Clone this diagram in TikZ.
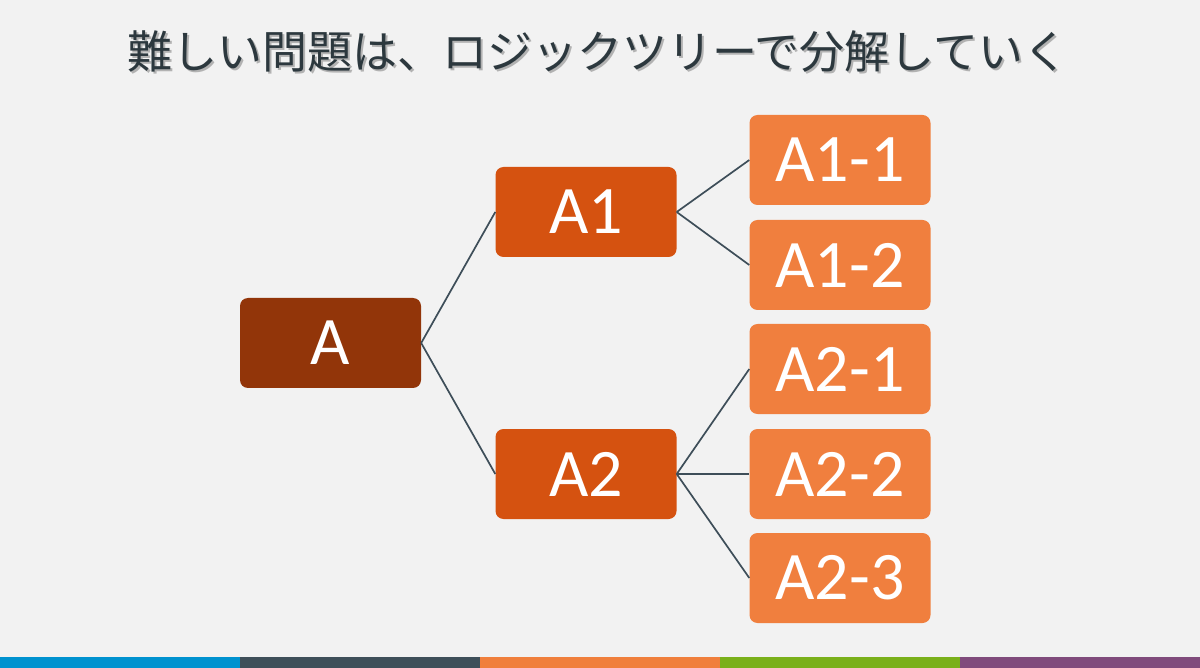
\documentclass[tikz,border=0pt]{standalone}
\usepackage{fontspec}
\setmainfont{Carlito}
\newfontfamily\jpfont{Noto Sans CJK JP}

\newlength{\du}
\setlength{\du}{1pt}

\definecolor{bgcolor}{RGB}{242,242,242}
\definecolor{rootcolor}{RGB}{146,53,9}
\definecolor{midcolor}{RGB}{213,82,16}
\definecolor{leafcolor}{RGB}{240,127,62}
\definecolor{linecolor}{RGB}{62,78,89}
\definecolor{titlecolor}{RGB}{44,56,62}
\definecolor{barblue}{RGB}{0,146,207}
\definecolor{bargray}{RGB}{62,79,89}
\definecolor{barorange}{RGB}{240,127,60}
\definecolor{bargreen}{RGB}{122,176,26}
\definecolor{barpurple}{RGB}{128,75,124}

\tikzset{
  treebox/.style={rounded corners=8\du, minimum width=181\du, minimum height=90\du,
    inner sep=0pt, text=white, font=\fontsize{68}{68}\selectfont},
  rootbox/.style={treebox, fill=rootcolor},
  midbox/.style={treebox, fill=midcolor},
  leafbox/.style={treebox, fill=leafcolor},
  link/.style={draw=linecolor, line width=1.7\du},
}

\begin{document}
\begin{tikzpicture}
\pgftransformyscale{-1.000000}
% background and frame
\fill[bgcolor] (0\du,0\du) rectangle (1200\du,668\du);
\useasboundingbox (0\du,0\du) rectangle (1200\du,668\du);
% bottom bar
\fill[barblue] (0\du,657\du) rectangle (240\du,668\du);
\fill[bargray] (240\du,657\du) rectangle (480\du,668\du);
\fill[barorange] (480\du,657\du) rectangle (720\du,668\du);
\fill[bargreen] (720\du,657\du) rectangle (960\du,668\du);
\fill[barpurple] (960\du,657\du) rectangle (1200\du,668\du);
% title
\node[text=black!30, font=\jpfont\fontsize{45}{45}\selectfont] (titleshadow) at (600\du,53\du){難しい問題は、ロジックツリーで分解していく};
\node[text=titlecolor, font=\jpfont\fontsize{45}{45}\selectfont] (title) at (598\du,51\du){難しい問題は、ロジックツリーで分解していく};
% tree
\node[rootbox] (a) at (330.5\du,343\du){A};
\node[midbox] (a1) at (586\du,212\du){A1};
\node[midbox] (a2) at (586\du,474\du){A2};
\node[leafbox] (a11) at (840\du,160\du){A1-1};
\node[leafbox] (a12) at (840\du,265\du){A1-2};
\node[leafbox] (a21) at (840\du,369\du){A2-1};
\node[leafbox] (a22) at (840\du,474\du){A2-2};
\node[leafbox] (a23) at (840\du,578\du){A2-3};
% connectors
\draw[link] (a.east)--(a1.west);
\draw[link] (a.east)--(a2.west);
\draw[link] (a1.east)--(a11.west);
\draw[link] (a1.east)--(a12.west);
\draw[link] (a2.east)--(a21.west);
\draw[link] (a2.east)--(a22.west);
\draw[link] (a2.east)--(a23.west);
\end{tikzpicture}
\end{document}
